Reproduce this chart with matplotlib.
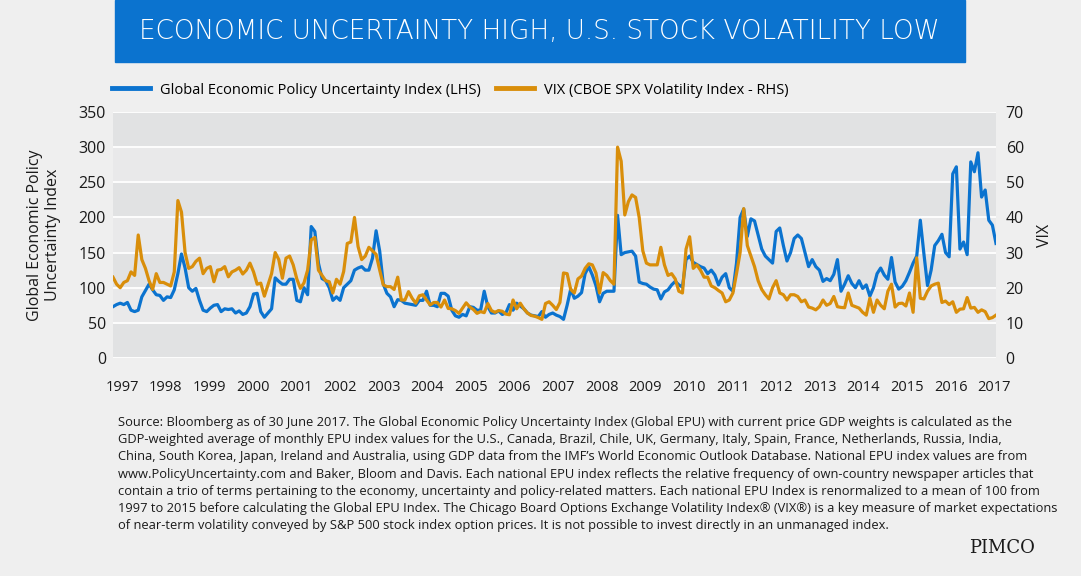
import matplotlib.pyplot as plt
from matplotlib.patches import Rectangle

# colores que saco de la imagen
AZUL = "#0b73cf"
NARANJA = "#d98e0a"
FONDO = "#efefef"
BANDA_OSCURA = "#e1e2e3"
BANDA_CLARA = "#e9e9ea"
TEXTO = "#1a1a1a"

plt.rcParams["font.family"] = ["Open Sans", "DejaVu Sans"]

# datos mensuales desde enero 1997
epu = [73, 76, 78, 76, 79, 68, 66, 68, 87, 96,
       105, 97, 90, 89, 82, 87, 86, 97, 120, 148,
       128, 100, 95, 99, 82, 68, 66, 71, 75, 76,
       66, 70, 69, 70, 64, 67, 62, 64, 73, 91,
       92, 66, 58, 64, 70, 114, 109, 105, 105, 112,
       112, 82, 80, 100, 90, 187, 180, 135, 113, 110,
       100, 82, 87, 82, 100, 105, 110, 125, 128, 130,
       125, 125, 142, 181, 152, 105, 92, 87, 73, 83,
       82, 78, 77, 76, 75, 82, 82, 95, 75, 75,
       73, 92, 92, 88, 68, 60, 58, 62, 60, 73,
       72, 68, 68, 95, 73, 64, 64, 67, 62, 64,
       76, 68, 78, 74, 70, 64, 61, 60, 59, 66,
       58, 62, 64, 61, 59, 55, 75, 98, 85, 88,
       93, 120, 130, 118, 103, 80, 92, 95, 95, 95,
       203, 147, 150, 151, 152, 145, 108, 106, 105, 101,
       98, 97, 84, 94, 97, 104, 109, 104, 101, 140,
       145, 136, 133, 130, 128, 120, 125, 118, 104, 115,
       120, 100, 95, 135, 200, 212, 173, 198, 195, 175,
       155, 145, 140, 135, 180, 185, 160, 138, 150, 170,
       175, 170, 150, 130, 140, 130, 125, 109, 113, 110,
       119, 140, 95, 105, 117, 106, 100, 110, 99, 104,
       88, 100, 120, 128, 118, 112, 143, 108, 98, 102,
       110, 122, 135, 145, 196, 148, 103, 125, 160, 167,
       176, 150, 144, 262, 272, 155, 165, 147, 279, 265,
       292, 229, 239, 196, 189, 163]

vix = [23, 21, 20, 21.5, 22, 24.5, 23.5, 35, 28, 25.5,
       22, 19.5, 24, 21.5, 21.5, 21, 20.5, 24.5, 44.8, 41.5,
       30, 25.5, 26, 27.5, 28.4, 24, 25.5, 26, 21.7, 25,
       25.2, 26, 23.1, 24.5, 25, 25.7, 23.9, 25, 27, 24.5,
       21, 21.3, 17.6, 20.8, 24, 30, 28, 22.7, 28.4, 29,
       26.5, 22.5, 19.8, 21.4, 25, 33.6, 34.3, 25, 23.5, 22,
       21.7, 18.5, 22.4, 21, 24.6, 32.6, 33, 40, 31.7, 28,
       29, 31.5, 30.5, 29.5, 25, 20.8, 20.3, 20.3, 19.5, 23,
       16.5, 16.5, 18.9, 17, 15.6, 17.7, 18, 16.5, 15.1, 15.8,
       15.8, 14.5, 16.5, 14.1, 14, 13.5, 12.7, 14.2, 15.7, 14.5,
       13.8, 12.7, 13.2, 12.9, 15.5, 13.5, 13, 13.5, 13.3, 12.5,
       12.3, 16.5, 14, 15.6, 14, 12.8, 12.1, 11.9, 11.5, 11,
       15.5, 16, 15, 13.8, 15.8, 24.2, 24, 19.5, 18.5, 22.5,
       23.3, 25.5, 26.8, 26.5, 24.2, 18.5, 24.3, 23.5, 22, 21,
       60, 56, 40.7, 44.5, 46.4, 45.7, 40, 30.5, 27, 26.5,
       26.5, 26.5, 31.5, 26.5, 23.5, 24, 22.5, 19, 18.5, 31,
       34.5, 25.5, 26.5, 25, 23, 23, 20.5, 20, 19.2, 18.5,
       16, 16.5, 18.5, 24, 30, 42.5, 32, 29, 26, 22,
       19.5, 18, 16.8, 20, 22, 18.5, 18, 16.5, 18, 18,
       17.5, 16, 16.5, 14.5, 14.2, 13.7, 14.6, 16.5, 15, 15.5,
       17.5, 14.6, 14.4, 14.3, 18.5, 15, 14.6, 14.2, 13, 12.2,
       17, 13, 16.5, 15, 14, 19, 21, 14.5, 15.5, 15.6,
       14.8, 18.5, 13, 28.5, 17, 16.8, 19, 20.5, 21, 21.3,
       15.8, 16.2, 15.2, 16, 13, 13.9, 14, 17.2, 14.2, 14.4,
       13, 13.7, 13.2, 11.2, 11.5, 12.2]

anios = list(range(1997, 2018))
meses = list(range(len(epu)))

titulo = "ECONOMIC UNCERTAINTY HIGH, U.S. STOCK VOLATILITY LOW"
nota = ("Source: Bloomberg as of 30 June 2017. The Global Economic Policy Uncertainty Index (Global EPU) with current price GDP weights is calculated as the\n"
        "GDP-weighted average of monthly EPU index values for the U.S., Canada, Brazil, Chile, UK, Germany, Italy, Spain, France, Netherlands, Russia, India,\n"
        "China, South Korea, Japan, Ireland and Australia, using GDP data from the IMF\u2019s World Economic Outlook Database. National EPU index values are from\n"
        "www.PolicyUncertainty.com and Baker, Bloom and Davis. Each national EPU index reflects the relative frequency of own-country newspaper articles that\n"
        "contain a trio of terms pertaining to the economy, uncertainty and policy-related matters. Each national EPU Index is renormalized to a mean of 100 from\n"
        "1997 to 2015 before calculating the Global EPU Index. The Chicago Board Options Exchange Volatility Index\u00ae (VIX\u00ae) is a key measure of market expectations\n"
        "of near-term volatility conveyed by S&P 500 stock index option prices. It is not possible to invest directly in an unmanaged index.")

fig = plt.figure(figsize=(10.81, 5.76), dpi=100)
fig.patch.set_facecolor(FONDO)

# caja azul del titulo
fig.patches.append(Rectangle((115 / 1081, 1 - 62 / 576), 850 / 1081, 62 / 576,
                             transform=fig.transFigure, color=AZUL, zorder=0))
fig.text(539 / 1081, 1 - 32 / 576, titulo, color="white", fontsize=18.9,
         fontweight="light", family=["DejaVu Sans"], ha="center", va="center")

ax = fig.add_axes([113 / 1081, 1 - 358 / 576, 883 / 1081, 246 / 576])
ax2 = ax.twinx()

# bandas de fondo alternas con lineas blancas
for k in range(7):
    ax.axhspan(k * 50, (k + 1) * 50, color=BANDA_OSCURA if k % 2 == 0 else BANDA_CLARA,
               lw=0, zorder=0)
for k in range(8):
    ax.axhline(k * 50, color="white", lw=1.3, zorder=1)

l1, = ax.plot(meses, epu, color=AZUL, lw=2.3, zorder=3, solid_joinstyle="round")
l2, = ax2.plot(meses, vix, color=NARANJA, lw=2.3, zorder=3, solid_joinstyle="round")

ax.set_xlim(0, len(epu) - 1)
ax.set_ylim(0, 350)
ax2.set_ylim(0, 70)
ax.set_yticks(range(0, 351, 50))
ax2.set_yticks(range(0, 71, 10))
# etiquetas de anio un poco despues de enero
ax.set_xticks([2.5 + 12.1 * k for k in range(len(anios))])
ax.set_xticklabels([str(a) for a in anios])

for eje in (ax, ax2):
    for spine in eje.spines.values():
        spine.set_visible(False)
    eje.tick_params(length=0, labelsize=11.5, colors=TEXTO)
ax.tick_params(axis="y", pad=5)
ax2.tick_params(axis="y", pad=7)
ax.tick_params(axis="x", pad=16, labelsize=10.5)

fig.text(44 / 1081, 1 - 235 / 576, "Global Economic Policy\nUncertainty Index", rotation=90,
         ha="center", va="center", fontsize=11.5, color=TEXTO, linespacing=1.1)
fig.text(1045 / 1081, 1 - 235 / 576, "VIX", rotation=90, ha="center", va="center",
         fontsize=11.5, color=TEXTO)

# leyenda arriba a la izquierda
fig.legend([l1, l2], ["Global Economic Policy Uncertainty Index (LHS)",
                      "VIX (CBOE SPX Volatility Index - RHS)"],
           loc="center left", bbox_to_anchor=(112 / 1081, 1 - 90 / 576), ncol=2,
           frameon=False, fontsize=10.5, handlelength=2.6, handletextpad=0.7,
           columnspacing=1.0, borderaxespad=0, borderpad=0)
for linea in fig.legends[0].get_lines():
    linea.set_linewidth(3.5)

fig.text(118 / 1081, 1 - 416 / 576, nota, ha="left", va="top", fontsize=9.25,
         color=TEXTO, linespacing=1.42)

fig.text(1002 / 1081, 1 - 548 / 576, "PIMCO", ha="center", va="center",
         fontsize=13, family="DejaVu Serif", color=TEXTO)

plt.savefig("out.png", dpi=100, facecolor=FONDO)
